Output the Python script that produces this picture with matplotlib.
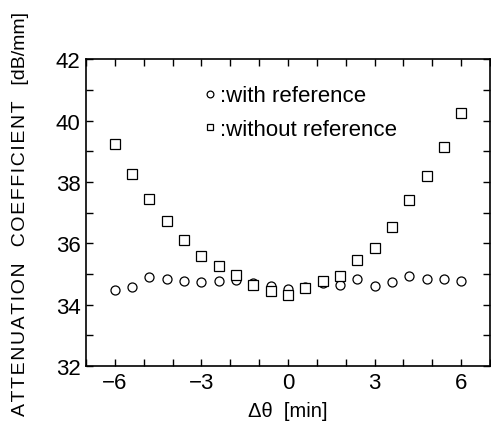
import matplotlib
matplotlib.use("Agg")
import matplotlib.pyplot as plt
from matplotlib.ticker import MultipleLocator

plt.rcParams['font.family'] = ['Liberation Sans', 'DejaVu Sans']

# angle offsets [min]
dtheta = [-6.0, -5.4, -4.8, -4.2, -3.6, -3.0, -2.4, -1.8, -1.2, -0.6, 0.0,
          0.6, 1.2, 1.8, 2.4, 3.0, 3.6, 4.2, 4.8, 5.4, 6.0]
with_ref = [34.49, 34.58, 34.89, 34.84, 34.78, 34.73, 34.78, 34.81, 34.69, 34.62, 34.51,
            34.56, 34.70, 34.64, 34.82, 34.62, 34.75, 34.94, 34.85, 34.85, 34.76]
without_ref = [39.25, 38.27, 37.45, 36.72, 36.11, 35.60, 35.27, 34.96, 34.65, 34.45, 34.33,
               34.53, 34.77, 34.95, 35.44, 35.84, 36.53, 37.42, 38.18, 39.14, 40.26]


def spaced(word):
    # slightly letter-spaced capitals like the original label
    return '\u200a'.join(word)


fig = plt.figure(figsize=(4.91, 4.27), dpi=100)
ax = fig.add_axes([0.175, 0.1405, 0.823, 0.7185])

ax.plot(dtheta, with_ref, linestyle='none', marker='o', markersize=6.5,
        markerfacecolor='white', markeredgecolor='black', markeredgewidth=0.9,
        label=':with reference')
ax.plot(dtheta, without_ref, linestyle='none', marker='s', markersize=6.5,
        markerfacecolor='white', markeredgecolor='black', markeredgewidth=0.9,
        label=':without reference')

ax.set_xlim(-7, 7)
ax.set_ylim(32, 42)
ax.xaxis.set_minor_locator(MultipleLocator(1))
ax.yaxis.set_major_locator(MultipleLocator(2))
ax.yaxis.set_minor_locator(MultipleLocator(1))
ax.set_xticks([-6, -3, 0, 3, 6])
ax.set_xticklabels(['\u22126', '\u22123', '0', '3', '6'])
ax.tick_params(which='both', direction='in', top=True, right=True,
               length=5, width=1, labelsize=16, pad=4)
for s in ax.spines.values():
    s.set_linewidth(1.2)

ax.set_xlabel('\u0394\u03b8  [min]', fontsize=14.5, labelpad=6)
ax.set_ylabel(spaced('ATTENUATION') + '   ' + spaced('COEFFICIENT') + '   [dB/mm]',
              fontsize=14)
ax.yaxis.set_label_coords(-0.14, 0.5)

leg = ax.legend(loc='upper left', bbox_to_anchor=(0.24, 0.98), frameon=False,
                handlelength=0.6, handletextpad=0.15, labelspacing=0.55,
                fontsize=16, markerscale=0.75)

fig.savefig('out.png', dpi=100)
